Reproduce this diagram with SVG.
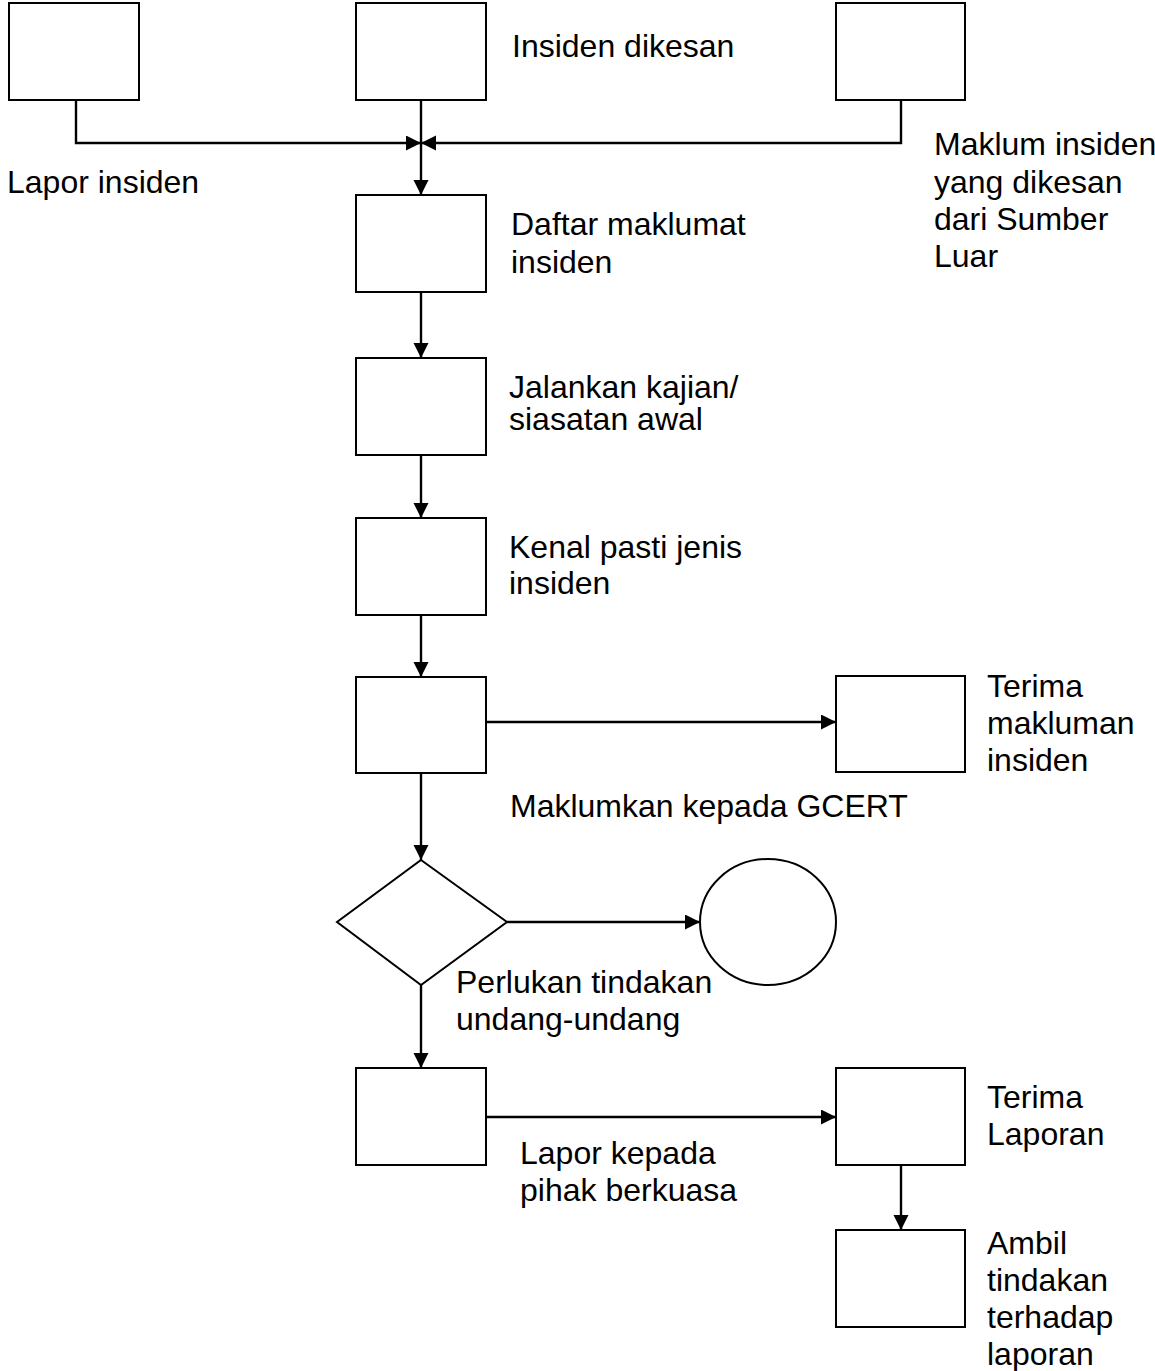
<svg xmlns="http://www.w3.org/2000/svg" width="1155" height="1371" viewBox="0 0 1155 1371">
<style>
.n{fill:#fff;stroke:#000;stroke-width:2}
.c{fill:none;stroke:#000;stroke-width:2.4}
text{font-family:"Liberation Sans",Arial,sans-serif;font-size:32px;fill:#000}
</style>
<defs>
<marker id="ah" markerUnits="userSpaceOnUse" markerWidth="16" markerHeight="16" refX="15" refY="7.5" orient="auto">
<path d="M0,0 L15,7.5 L0,15 z" fill="#000"/>
</marker>
</defs>
<rect width="1155" height="1371" fill="#fff"/>
<g id="connectors">
<path class="c" d="M76,100 V143 H421" marker-end="url(#ah)"/>
<path class="c" d="M901,100 V143 H421" marker-end="url(#ah)"/>
<path class="c" d="M421,100 V195" marker-end="url(#ah)"/>
<path class="c" d="M421,292 V358" marker-end="url(#ah)"/>
<path class="c" d="M421,455 V518" marker-end="url(#ah)"/>
<path class="c" d="M421,615 V677" marker-end="url(#ah)"/>
<path class="c" d="M421,773 V860" marker-end="url(#ah)"/>
<path class="c" d="M421,985 V1068" marker-end="url(#ah)"/>
<path class="c" d="M486,722 H836" marker-end="url(#ah)"/>
<path class="c" d="M507,922 H700" marker-end="url(#ah)"/>
<path class="c" d="M486,1117 H836" marker-end="url(#ah)"/>
<path class="c" d="M901,1165 V1230" marker-end="url(#ah)"/>
</g>
<g id="lapor-insiden"><rect class="n" x="9" y="3" width="130" height="97"/><text x="7" y="193">Lapor insiden</text></g>
<g id="insiden-dikesan"><rect class="n" x="356" y="3" width="130" height="97"/><text x="512" y="57">Insiden dikesan</text></g>
<g id="maklum-insiden"><rect class="n" x="836" y="3" width="129" height="97"/><text x="934" y="155">Maklum insiden</text><text x="934" y="193">yang dikesan</text><text x="934" y="230">dari Sumber</text><text x="934" y="267">Luar</text></g>
<g id="daftar"><rect class="n" x="356" y="195" width="130" height="97"/><text x="511" y="235">Daftar maklumat</text><text x="511" y="273">insiden</text></g>
<g id="jalankan"><rect class="n" x="356" y="358" width="130" height="97"/><text x="509" y="398">Jalankan kajian/</text><text x="509" y="430">siasatan awal</text></g>
<g id="kenal"><rect class="n" x="356" y="518" width="130" height="97"/><text x="509" y="558">Kenal pasti jenis</text><text x="509" y="594">insiden</text></g>
<g id="maklumkan"><rect class="n" x="356" y="677" width="130" height="96"/><text x="510" y="817">Maklumkan kepada GCERT</text></g>
<g id="terima-makluman"><rect class="n" x="836" y="676" width="129" height="96"/><text x="987" y="697">Terima</text><text x="987" y="734">makluman</text><text x="987" y="771">insiden</text></g>
<g id="perlukan"><polygon class="n" points="421,860 507,922 421,985 337,922"/><text x="456" y="993">Perlukan tindakan</text><text x="456" y="1030">undang-undang</text></g>
<g id="tamat"><ellipse class="n" cx="768" cy="922" rx="68" ry="63"/></g>
<g id="lapor-kepada"><rect class="n" x="356" y="1068" width="130" height="97"/><text x="520" y="1164">Lapor kepada</text><text x="520" y="1201">pihak berkuasa</text></g>
<g id="terima-laporan"><rect class="n" x="836" y="1068" width="129" height="97"/><text x="987" y="1108">Terima</text><text x="987" y="1145">Laporan</text></g>
<g id="ambil"><rect class="n" x="836" y="1230" width="129" height="97"/><text x="987" y="1254">Ambil</text><text x="987" y="1291">tindakan</text><text x="987" y="1328">terhadap</text><text x="987" y="1365">laporan</text></g>
</svg>
